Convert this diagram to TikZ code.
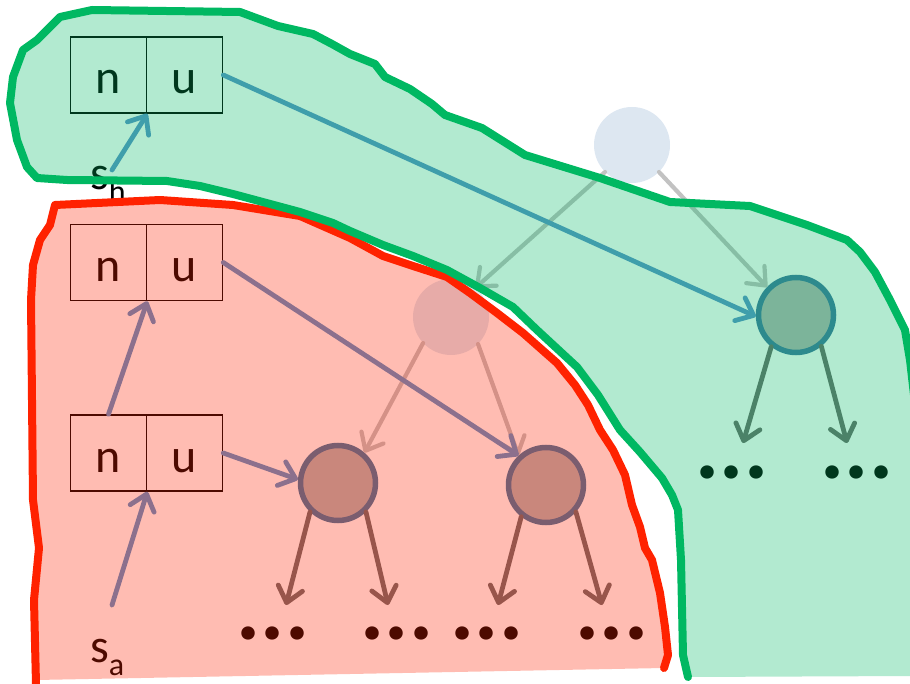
\documentclass[tikz,border=0pt]{standalone}
\usepackage{fontspec}
\setmainfont{Carlito}
\usetikzlibrary{arrows.meta}

\definecolor{zoneG}{HTML}{00B862}
\definecolor{zoneR}{HTML}{FF2200}
\definecolor{linkB}{HTML}{5B93CB}
\definecolor{ringB}{HTML}{4177A0}
\definecolor{discG}{HTML}{B3B3B3}
\definecolor{kidG}{HTML}{6C6C6C}
\definecolor{ghostC}{HTML}{DDE7F1}
\definecolor{ghostL}{HTML}{C2C2C2}

\tikzset{
  cell/.style={draw=black, line width=1.6pt, text=black, minimum width=76pt,
    minimum height=76pt, inner sep=0pt, text height=38pt, text depth=0pt,
    font=\fontsize{48}{48}\selectfont},
  lbl/.style={inner sep=0pt, text=black, font=\fontsize{48}{48}\selectfont},
  barb/.tip={Straight Barb[length=15pt,width=25pt,round]},
  link/.style={draw=linkB, line width=4.8pt, line cap=round, -barb},
  kid/.style={draw=kidG, line width=4.8pt, line cap=round, -barb},
  ghostlink/.style={draw=ghostL, line width=4.2pt, line cap=round, -barb},
  state/.style={circle, draw=ringB, fill=discG, line width=5.5pt, minimum size=75pt, inner sep=0pt},
  ghost/.style={circle, fill=ghostC, minimum size=76pt, inner sep=0pt},
  more/.style={inner sep=0pt, text=black, font=\fontsize{90}{90}\selectfont\bfseries},
  zonefill/.style={fill opacity=0.3},
  zoneline/.style={line width=8pt, line join=round, line cap=round},
}

\begin{document}
\begin{tikzpicture}[x=1pt,y=-1pt]
\useasboundingbox (0,0) rectangle (910,684);

% ---- tree layer ----
% faded parent states
\node[ghost] (gtop) at (632,145) {};
\node[ghost] (gmid) at (451,317) {};

% live states
\node[state] (cg) at (796,315) {};
\node[state] (cl) at (338,483) {};
\node[state] (cr) at (546,485) {};

% faded transitions
\draw[ghostlink] (gtop.225) -- (gmid.50);
\draw[ghostlink] (gtop.315) -- (cg.136);
\draw[ghostlink] (gmid.223) -- (cl.49);
\draw[ghostlink] (gmid.315) -- (cr.133);

% n|u records
\node[cell] (nh) at (108.5,75) {n};
\node[cell] (uh) at (184.5,75) {u};
\node[cell] (nm) at (108.5,262.5) {n};
\node[cell] (um) at (184.5,262.5) {u};
\node[cell] (nl) at (108.5,453) {n};
\node[cell] (ul) at (184.5,453) {u};

% stack labels
\node[lbl, anchor=base west] (sh) at (90,190) {s\raisebox{-13pt}{\fontsize{32}{32}\selectfont h}};
\node[lbl, anchor=base west] (sa) at (90,662) {s\raisebox{-13pt}{\fontsize{32}{32}\selectfont a}};
\coordinate (shtail) at (112,170);
\coordinate (satail) at (112,605);

% record links
\draw[link] (shtail) -- (nh.south east);
\draw[link] (satail) -- (nl.south east);
\draw[link] (nl.north) -- (nm.south east);
\draw[link] (uh.east) -- (cg.182);
\draw[link] (um.east) -- (cr.133);
\draw[link] (ul.east) -- (cl.175);

% children
\coordinate (g1) at (743,443);
\coordinate (g2) at (847,443);
\coordinate (l1) at (286,605);
\coordinate (l2) at (388,605);
\coordinate (r1) at (498,605);
\coordinate (r2) at (602,605);
\draw[kid] (cg.232) -- (g1);
\draw[kid] (cg.309) -- (g2);
\draw[kid] (cl.226) -- (l1);
\draw[kid] (cl.314) -- (l2);
\draw[kid] (cr.232) -- (r1);
\draw[kid] (cr.318) -- (r2);

% elided subtrees
\node[more] (dg1) at (732,472) {...};
\node[more] (dg2) at (857,472) {...};
\node[more] (dl1) at (273,633) {...};
\node[more] (dl2) at (397,633) {...};
\node[more] (dr1) at (487,633) {...};
\node[more] (dr2) at (612,633) {...};

% ---- red zone: tinted area, outline open along the bottom ----
\fill[zonefill, zoneR]
  (55,205) -- (160,200) -- (233,205) -- (300,216) -- (350,238) -- (383,256)
  -- (413,266) -- (447,277) -- (470,293) -- (497,313) -- (523,333) -- (557,363)
  -- (575,385) -- (588,405) -- (600,430) -- (613,450) -- (625,475) -- (632,505)
  -- (640,527) -- (645,548) -- (652,560) -- (660,593) -- (665,627) -- (668,655)
  -- (664,668) -- (36,680) -- (34,600) -- (39,548) -- (33,500) -- (31,300)
  -- (33,265) -- (40,240) -- (50,225) -- cycle;
\draw[zoneline, zoneR]
  (664,668) -- (668,655) -- (665,627) -- (660,593) -- (652,560) -- (645,548)
  -- (640,527) -- (632,505) -- (625,475) -- (613,450) -- (600,430) -- (588,405)
  -- (575,385) -- (557,363) -- (523,333) -- (497,313) -- (470,293) -- (447,277)
  -- (413,266) -- (383,256) -- (350,238) -- (300,216) -- (233,205) -- (160,200)
  -- (55,205) -- (50,225) -- (40,240) -- (33,265) -- (31,300) -- (33,500)
  -- (39,548) -- (34,600) -- (36,684);

% ---- green zone: tinted area, outline running off the right side ----
\fill[zonefill, zoneG]
  (60,17) -- (92,10) -- (240,12) -- (278,26) -- (313,34) -- (332,44) -- (350,54)
  -- (375,64) -- (385,77) -- (410,89) -- (432,104) -- (445,115) -- (482,128)
  -- (525,155) -- (600,178) -- (670,202) -- (750,206) -- (807,225) -- (847,240)
  -- (860,252) -- (875,272) -- (890,300) -- (905,330) -- (911,360) -- (914,676)
  -- (688,677) -- (683,655) -- (681,560) -- (678,510) -- (672,495) -- (662,478)
  -- (640,452) -- (620,430) -- (598,395) -- (577,367) -- (537,330) -- (513,307)
  -- (480,288) -- (447,270) -- (413,256) -- (383,245) -- (350,231) -- (333,223)
  -- (300,212) -- (233,194) -- (200,186) -- (167,181) -- (67,180) -- (37,178)
  -- (27,167) -- (17,140) -- (10,103) -- (13,77) -- (23,50) -- (37,40) -- cycle;
\draw[zoneline, zoneG]
  (918,430) -- (910,360) -- (905,330) -- (890,300) -- (875,272) -- (860,252)
  -- (847,240) -- (807,225) -- (750,206) -- (670,202) -- (600,178) -- (525,155)
  -- (482,128) -- (445,115) -- (432,104) -- (410,89) -- (385,77) -- (375,64)
  -- (350,54) -- (332,44) -- (313,34) -- (278,26) -- (240,12) -- (92,10)
  -- (60,17) -- (37,40) -- (23,50) -- (13,77) -- (10,103) -- (17,140)
  -- (27,167) -- (37,178) -- (67,180) -- (167,181) -- (200,186) -- (233,194)
  -- (300,212) -- (333,223) -- (350,231) -- (383,245) -- (413,256) -- (447,270)
  -- (480,288) -- (513,307) -- (537,330) -- (577,367) -- (598,395) -- (620,430)
  -- (640,452) -- (662,478) -- (672,495) -- (678,510) -- (681,560) -- (683,655)
  -- (688,677);
\end{tikzpicture}
\end{document}
